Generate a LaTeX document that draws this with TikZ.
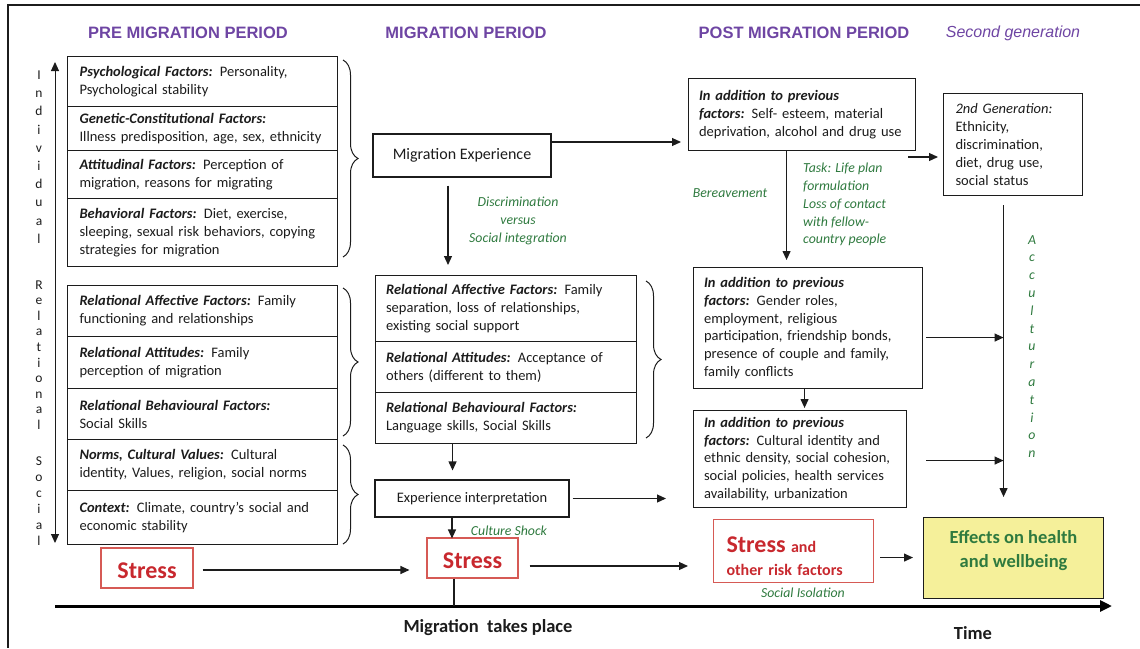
\documentclass[tikz,border=0pt]{standalone}
\usepackage{fontspec}
\setmainfont{Carlito}
\newfontfamily\arialf{Liberation Sans}
\usetikzlibrary{arrows.meta,decorations.pathreplacing}

\definecolor{ttlpurple}{HTML}{6E45A3}
\definecolor{lblgreen}{HTML}{2F7A3F}
\definecolor{strred}{HTML}{C8282E}
\definecolor{strborder}{HTML}{D65A55}
\definecolor{effyellow}{HTML}{F5F09A}
\definecolor{boxc}{HTML}{1C1C1C}

\newcommand{\bodyfont}{\fontsize{14.5}{17.9}\selectfont}
\newcommand{\titlefont}{\arialf\bfseries\fontsize{16.5}{20}\selectfont}
\newcommand{\glabelfont}{\itshape\fontsize{13.8}{17.9}\selectfont}
\newcommand{\hd}[1]{\textbf{\textit{#1}}}

\tikzset{
  box/.style={draw=boxc, line width=1.1pt, inner ysep=0pt, text=boxc},
  cell/.style={box, anchor=north west, inner xsep=12pt, text width=246pt, align=left, font=\bodyfont},
  mcell/.style={box, anchor=north west, inner xsep=10.5pt, text width=240pt, align=left, font=\bodyfont},
  pbox/.style={box, anchor=north west, inner xsep=10.5pt, align=left, font=\bodyfont},
  arr/.style={draw=boxc, line width=1.1pt, -{Triangle[length=9pt,width=8pt]}},
  ttl/.style={font=\titlefont, text=ttlpurple, inner sep=0pt},
  glabel/.style={font=\glabelfont, text=lblgreen, align=center, inner sep=0pt},
  stressbox/.style={draw=strborder, line width=1.1pt, text=strred, inner sep=0pt},
  bigstress/.style={stressbox, text height=21.5pt, text depth=0pt, font=\bfseries\fontsize{24}{28}\selectfont},
  brc/.style={decorate, decoration={brace, amplitude=15pt}, line width=1pt, draw=boxc},
  vletters/.style={align=center, inner sep=0pt, text=boxc},
}

\begin{document}
\begin{tikzpicture}[x=1pt,y=-1pt]
\useasboundingbox (0,0) rectangle (1140,648);

% frame
\draw[line width=1.4pt, draw=boxc] (1140,5) -- (8,5) -- (8,648);

% titles
\node[ttl] (t1) at (188,33) {PRE MIGRATION PERIOD};
\node[ttl] (t2) at (466,33) {MIGRATION PERIOD};
\node[ttl] (t3) at (804,33) {POST MIGRATION PERIOD};
\node[ttl, font=\arialf\itshape\fontsize{16}{20}\selectfont] (t4) at (1013,33) {Second generation};

% left axis
\coordinate (axT) at (55,62);
\coordinate (axB) at (55,543);
\draw[line width=1pt, draw=boxc, {Triangle[length=9pt,width=8pt]}-{Triangle[length=9pt,width=8pt]}] (axT) -- (axB);
\node[vletters, font=\fontsize{13.5}{18.2}\selectfont] (vind) at (39,157) {I\\n\\d\\i\\v\\i\\d\\u\\a\\l};
\node[vletters, font=\fontsize{13.5}{15.6}\selectfont] (vrel) at (39,355) {R\\e\\l\\a\\t\\i\\o\\n\\a\\l};
\node[vletters, font=\fontsize{13.5}{16}\selectfont] (vsoc) at (39,501) {S\\o\\c\\i\\a\\l};

% left stack
\node[cell, minimum height=50pt] (c1) at (67,56) {\hd{Psychological Factors:} Personality,\\Psychological stability};
\node[cell, minimum height=44pt] (c2) at (67,106) {\hd{Genetic-Constitutional Factors:}\\Illness predisposition, age, sex, ethnicity};
\node[cell, minimum height=48pt] (c3) at (67,150) {\hd{Attitudinal Factors:} Perception of\\migration, reasons for migrating};
\node[cell, minimum height=68pt] (c4) at (67,198) {\hd{Behavioral Factors:} Diet, exercise,\\sleeping, sexual risk behaviors, copying\\strategies for migration};
\node[cell, minimum height=51pt] (c5) at (67,285) {\hd{Relational Affective Factors:} Family\\functioning and relationships};
\node[cell, minimum height=52pt] (c6) at (67,336) {\hd{Relational Attitudes:} Family\\perception of migration};
\node[cell, minimum height=51pt] (c7) at (67,388) {\hd{Relational Behavioural Factors:}\\Social Skills};
\node[cell, minimum height=51pt] (c8) at (67,439) {\hd{Norms, Cultural Values:} Cultural\\identity, Values, religion, social norms};
\node[cell, minimum height=54pt] (c9) at (67,490) {\hd{Context:} Climate, country’s social and\\economic stability};

% braces
\draw[brc] (343,60) -- (343,257);
\draw[brc] (343,288) -- (343,436);
\draw[brc] (343,445) -- (343,544);
\draw[brc] (646,281) -- (646,438);

% migration column
\node[box, minimum width=178pt, minimum height=43pt, font=\fontsize{16}{19}\selectfont] (me) at (462,155.5) {Migration Experience};
\node[mcell, minimum height=66pt] (m1) at (375,275) {\hd{Relational Affective Factors:} Family\\separation, loss of relationships,\\existing social support};
\node[mcell, minimum height=51pt] (m2) at (375,341) {\hd{Relational Attitudes:} Acceptance of\\others (different to them)};
\node[mcell, minimum height=51pt] (m3) at (375,392) {\hd{Relational Behavioural Factors:}\\Language skills, Social Skills};
\node[box, minimum width=194pt, minimum height=37pt, font=\bodyfont] (ei) at (472,498.5) {Experience interpretation};

\node[glabel] (gdisc) at (518,221) {Discrimination\\versus\\Social integration};
\node[glabel] (gcult) at (509,531) {Culture Shock};

% stress boxes
\node[bigstress, minimum width=92pt, minimum height=40pt] (st1) at (147,568) {Stress};
\node[bigstress, minimum width=91pt, minimum height=40pt] (st2) at (472.5,558) {Stress};
\node[stressbox, anchor=north west, minimum width=160pt, minimum height=63pt, inner xsep=13pt, text width=134pt, align=left, font=\bfseries\fontsize{16}{23}\selectfont] (st3) at (713,519) {\rule{0pt}{26pt}{\fontsize{24}{28}\selectfont Stress} and\\other risk factors};

% post migration
\node[pbox, text width=206pt, minimum height=72pt] (p1) at (688,78) {\hd{In addition to previous}\\\hd{factors:} Self- esteem, material\\deprivation, alcohol and drug use};
\node[pbox, text width=208pt, minimum height=121pt] (p2) at (693,267) {\hd{In addition to previous}\\\hd{factors:} Gender roles,\\employment, religious\\participation, friendship bonds,\\presence of couple and family,\\family conflicts};
\node[pbox, text width=192pt, minimum height=97pt] (p3) at (693,410) {\hd{In addition to previous}\\\hd{factors:} Cultural identity and\\ethnic density, social cohesion,\\social policies, health services\\availability, urbanization};
\node[pbox, inner xsep=12pt, text width=115pt, minimum height=102pt] (gen) at (943,93) {\textit{2nd Generation:}\\Ethnicity,\\discrimination,\\diet, drug use,\\social status};

\node[glabel] (gber) at (730,193) {Bereavement};
\node[glabel, align=left, anchor=west] (gtask) at (803,204.5) {Task: Life plan\\formulation\\Loss of contact\\with fellow-\\country people};
\node[glabel] (gsoc) at (803,593) {Social Isolation};
\node[glabel, font=\itshape\fontsize{13.8}{17.8}\selectfont] (gacc) at (1032,346.5) {A\\c\\c\\u\\l\\t\\u\\r\\a\\t\\i\\o\\n};

% effects
\node[box, anchor=north west, fill=effyellow, minimum width=180pt, minimum height=81pt, align=center, text=lblgreen, font=\bfseries\fontsize{18.5}{24}\selectfont] (eff) at (923,517) {Effects on health\\and wellbeing\rule[-19pt]{0pt}{19pt}};

% timeline
\coordinate (tlA) at (55,606);
\coordinate (tlB) at (1112,606);
\draw[line width=3pt, draw=black, -{Triangle[length=12pt,width=11pt]}] (tlA) -- (tlB);
\node[inner sep=0pt, text=boxc, font=\bfseries\fontsize{18.5}{22}\selectfont] (mtp) at (488,628) {Migration\ \ takes place};
\node[inner sep=0pt, text=boxc, font=\bfseries\fontsize{18.5}{22}\selectfont] (time) at (973,633) {Time};

% connectors: migration column
\coordinate (meA) at ([yshift=13.5pt]me.east);
\draw[arr, shorten >=7pt] (meA) -- (meA -| p1.west);
\coordinate (meB) at ([xshift=-14pt]me.south);
\draw[arr, shorten <=8pt, shorten >=10pt] (meB) -- (meB |- m1.north);
\coordinate (m3B) at ([xshift=-53.5pt]m3.south);
\draw[arr, shorten >=9pt] (m3B) -- (m3B |- ei.north);
\draw[arr, shorten <=3pt, shorten >=27pt] (ei.east) -- (ei.east -| p3.west);
\coordinate (eiB) at ([xshift=-20pt]ei.south);
\draw[arr, shorten >=-1pt] (eiB) -- (eiB |- st2.north);
\coordinate (st2B) at ([xshift=-18.5pt]st2.south);
\draw[line width=1.1pt, draw=boxc] (st2B) -- (st2B |- tlA);

% stress chain
\coordinate (s1a) at ([yshift=-2pt]st1.east);
\draw[arr, shorten <=9pt, shorten >=17pt] (s1a) -- (s1a -| st2.west);
\coordinate (s2a) at ([yshift=-8pt]st2.east);
\draw[arr, shorten <=11pt, shorten >=25pt] (s2a) -- (s2a -| st3.west);
\coordinate (s3a) at ([yshift=-6.5pt]st3.east);
\draw[arr, shorten <=6pt, shorten >=10pt] (s3a) -- (s3a -| eff.west);

% post migration connectors
\coordinate (p1B) at ([xshift=-15.5pt]p1.south);
\draw[arr, shorten >=7pt] (p1B) -- (p1B |- p2.north);
\coordinate (p2B) at ([xshift=-3.5pt]p2.south);
\draw[arr, shorten >=2pt] (p2B) -- (p2B |- p3.north);
\coordinate (genA) at (908,157);
\draw[arr, shorten >=5pt] (genA) -- (genA -| gen.west);
\coordinate (accT) at ([xshift=-9.5pt]gen.south);
\draw[arr, shorten <=9pt, shorten >=20pt] (accT) -- (accT |- eff.north);
\coordinate (p2a) at ([yshift=-9.5pt]p2.east);
\draw[arr, shorten <=3pt] (p2a) -- (p2a -| accT);
\coordinate (p3a) at ([yshift=-1.5pt]p3.east);
\draw[arr, shorten <=19pt] (p3a) -- (p3a -| accT);
\end{tikzpicture}
\end{document}
